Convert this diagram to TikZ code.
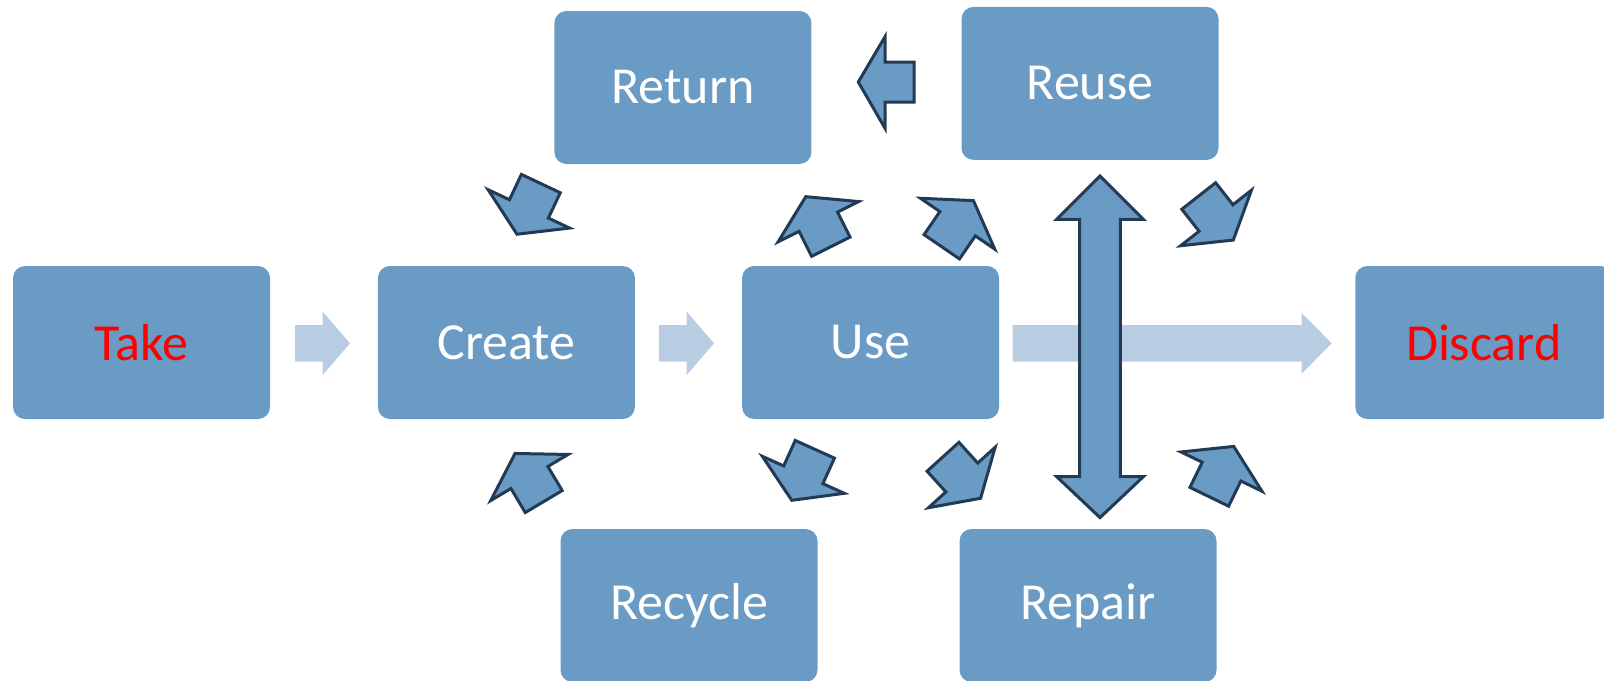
\documentclass[tikz,border=0pt]{standalone}
\usepackage{fontspec}
\setmainfont{Carlito}
\begin{document}
\definecolor{boxblue}{HTML}{6A9BC4}
\definecolor{paleblue}{HTML}{B9CDE2}
\definecolor{edgenavy}{HTML}{233A55}
\definecolor{alertred}{HTML}{FF0000}
\begin{tikzpicture}[x=0.5pt,y=-0.5pt,
  stage/.style={rectangle, rounded corners=6pt, fill=boxblue, draw=none,
    minimum width=128.5pt, minimum height=76.5pt, inner sep=0pt,
    text=white, font=\fontsize{26}{31}\selectfont},
  endstage/.style={stage, text=alertred},
  flow/.style={fill=paleblue, draw=none},
  loopshape/.style={fill=boxblue, draw=edgenavy, line width=1.5pt, line join=miter},
  loop arrow/.pic={
    \filldraw[loopshape] (-28,-21.5) -- (0,-21.5) -- (0,-45) -- (28,0)
      -- (0,45) -- (0,21.5) -- (-28,21.5) -- cycle;
  }]
\useasboundingbox (0,0) rectangle (1604,680);
\clip (0,0) rectangle (1604,680);

% main line: take -> create -> use -> discard
\node[endstage] (take)    at (141.5,342.5)  {Take};
\node[stage]    (create)  at (506.4,342.5)  {Create};
\node[stage]    (use)     at (870.6,342.5)  {Use};
\node[endstage] (discard) at (1483.75,342.5) {Discard};

% the loop stages
\node[stage] (returnbox) at (682.9,87.5)  {Return};
\node[stage] (reuse)     at (1090,83.4)   {Reuse};
\node[stage] (recycle)   at (689,605.5)   {Recycle};
\node[stage] (repair)    at (1088,605.5)  {Repair};

% pale flow arrows along the linear chain
\fill[flow] (295,325) -- (322.7,325) -- (322.7,311.7) -- (350,343.3)
  -- (322.7,375) -- (322.7,361.7) -- (295,361.7) -- cycle;
\fill[flow] (659,325) -- (686.7,325) -- (686.7,311.7) -- (714,343.3)
  -- (686.7,375) -- (686.7,361.7) -- (659,361.7) -- cycle;
\fill[flow] (1012.7,325) -- (1301.7,325) -- (1301.7,313) -- (1331.7,343.3)
  -- (1301.7,373.7) -- (1301.7,361.7) -- (1012.7,361.7) -- cycle;

% reuse <-> repair
\filldraw[loopshape] (1100,176) -- (1143.3,219.3) -- (1120.3,219.3)
  -- (1120.3,476.7) -- (1143.3,476.7) -- (1100,517.6) -- (1056.7,476.7)
  -- (1079.7,476.7) -- (1079.7,219.3) -- (1056.7,219.3) -- cycle;

% reuse -> return
\filldraw[loopshape] (858.3,82) -- (885,36.7) -- (885,62) -- (914,62)
  -- (914,102) -- (885,102) -- (885,128.3) -- cycle;

% short loop arrows around the stages
\pic[rotate=244.8]  at (528.9,208.9) {loop arrow};
\pic[rotate=116.6]  at (818.3,221.7) {loop arrow};
\pic[rotate=55.6]   at (957.6,223.7) {loop arrow};
\pic[rotate=-51.9]  at (1216,218)    {loop arrow};
\pic[rotate=120.8]  at (529.4,477.5) {loop arrow};
\pic[rotate=-114.3] at (803.3,474.8) {loop arrow};
\pic[rotate=-47.8]  at (961.8,477.5) {loop arrow};
\pic[rotate=64.1]   at (1221.5,471.6) {loop arrow};
\end{tikzpicture}
\end{document}
